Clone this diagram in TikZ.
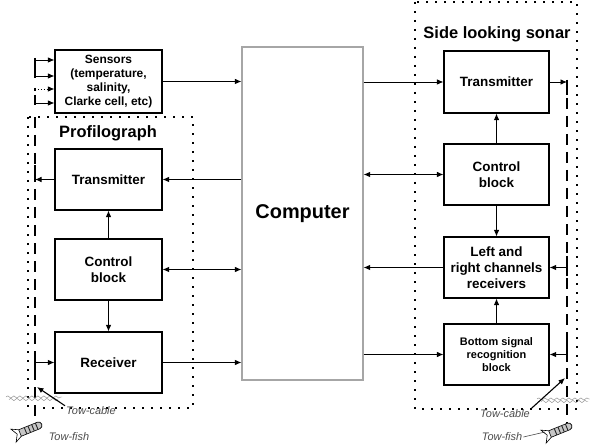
\documentclass[tikz,border=0pt]{standalone}
\usepackage{fontspec}
\setmainfont{Liberation Sans}
\usetikzlibrary{arrows.meta}
\usetikzlibrary{decorations.pathmorphing}

\begin{document}
\begin{tikzpicture}[x=1bp, y=-1bp,
    block/.style={draw, line width=1.1bp, minimum width=107bp, minimum height=61bp,
      align=center, inner sep=1bp, font=\fontsize{13.5}{16}\selectfont\bfseries},
    group/.style={draw, line width=1.6bp, dash pattern=on 1.6bp off 7.4bp},
    title/.style={font=\fontsize{16.5}{19}\selectfont\bfseries},
    towline/.style={line width=2.3bp, dash pattern=on 11bp off 7bp},
    tick/.style={line width=2.3bp},
    tip/.tip={Latex[length=6.5bp, width=5.5bp]},
    link/.style={line width=0.9bp, -tip},
    wave/.style={gray, decorate, decoration={snake, amplitude=1.1bp, segment length=6bp}},
    note/.style={text=gray!60!black, font=\fontsize{11}{13}\selectfont\itshape, inner sep=1bp},
    towfish/.pic={
      \draw[fill=gray!45, line width=0.6bp] (0,-3.5) -- (20,-3.5) arc (-90:90:3.5) -- (0,3.5) -- cycle;
      \draw[line width=0.6bp] (0,-3.5) -- (-7,-7) -- (-3,0) -- (-7,7) -- (0,3.5);
      \foreach \s in {6, 10, 14, 18}
        \draw[gray!30!black, line width=0.9bp] (\s,-3.5) -- (\s,3.5);
    }
  ]
  \useasboundingbox (0,0) rectangle (590,447);

  \draw[group] (28,117) rectangle (193,408);
  \draw[group] (415,2) rectangle (577,409);
  \node[title] (proftitle) at (108,133) {Profilograph};
  \node[title] (sonartitle) at (497,34) {Side looking sonar};

  \node[block, font=\fontsize{12}{14}\selectfont\bfseries, minimum height=63bp] (sens) at (108.5,81.5)
    {Sensors\\(temperature,\\salinity,\\Clarke cell, etc)};
  \node[block] (ptx) at (108.5,179.5) {Transmitter};
  \node[block] (pctl) at (108.5,269.5) {Control\\block};
  \node[block] (prx) at (108.5,362.5) {Receiver};

  \node[block, draw=gray!70, minimum width=121bp, minimum height=333bp,
    font=\fontsize{20}{24}\selectfont\bfseries] (comp) at (302.5,213.5) {Computer};

  \node[block, minimum width=105bp, minimum height=62bp] (stx) at (496.5,82) {Transmitter};
  \node[block, minimum width=105bp] (sctl) at (496.5,174.5) {Control\\block};
  \node[block, minimum width=105bp] (srx) at (496.5,267.5) {Left and\\right channels\\receivers};
  \node[block, minimum width=105bp, font=\fontsize{11}{13}\selectfont\bfseries] (sbot) at (496.5,354.5)
    {Bottom signal\\recognition\\block};

  \draw[link] (sens) -- (sens -| comp.west);
  \draw[link] (comp.west |- ptx) -- (ptx);
  \draw[link, tip-tip] (pctl) -- (pctl -| comp.west);
  \draw[link] (prx) -- (prx -| comp.west);
  \draw[link] (comp.east |- stx) -- (stx);
  \draw[link, tip-tip] (comp.east |- sctl) -- (sctl);
  \draw[link] (srx) -- (srx -| comp.east);
  \draw[link] (comp.east |- sbot) -- (sbot);

  \draw[link] (pctl) -- (ptx);
  \draw[link] (pctl) -- (prx);
  \draw[link] (sctl) -- (stx);
  \draw[link] (sctl) -- (srx);
  \draw[link] (sbot) -- (srx);

  \coordinate (ltop) at (35,117);
  \coordinate (lbot) at (35,418);
  \coordinate (rtop) at (567,80);
  \coordinate (rbot) at (567,423);
  \draw[towline] (ltop) -- (lbot);
  \draw[towline] (rtop) -- (rbot);

  \draw[tick] (35,58) -- (35,78);
  \draw[link] (35,60) -- (sens.west |- 0,60);
  \draw[link] (35,76) -- (sens.west |- 0,76);
  \draw[tick, dash pattern=on 3bp off 4bp on 12bp] (35,88) -- (35,105);
  \draw[link, dotted] (35,89) -- (sens.west |- 0,89);
  \draw[link] (35,103) -- (sens.west |- 0,103);

  \draw[tick] (35,165) -- (35,182);
  \draw[link] (ptx) -- (ptx -| ltop);
  \draw[tick] (35,354) -- (35,372);
  \draw[link] (prx -| ltop) -- (prx);
  \draw[link] (stx) -- (stx -| rtop);
  \draw[tick] (567,80) -- (567,95);
  \draw[tick] (567,256) -- (567,276);
  \draw[link] (srx -| rtop) -- (srx);
  \draw[tick] (567,343) -- (567,362);
  \draw[link] (sbot -| rtop) -- (sbot);

  \draw[wave] (6,397) -- (62,397);
  \draw[wave] (9,399.5) -- (58,399.5);
  \draw[wave] (537,399) -- (590,399);
  \draw[wave] (541,401.5) -- (588,401.5);

  \node[note] (tcl) at (91,411) {Tow-cable};
  \node[note] (tfl) at (69,437) {Tow-fish};
  \node[note] (tcr) at (505,414) {Tow-cable};
  \node[note] (tfr) at (502,437) {Tow-fish};

  \coordinate (lcab) at (37,387);
  \coordinate (rcab) at (565,378);
  \coordinate (rfish) at (545,432);
  \draw[link, line width=1.1bp] (tcl.north west) -- (lcab);
  \draw[link, line width=1.1bp] (tcr.north east) -- (rcab);
  \draw[gray!60!black, line width=0.6bp] (tfr.east) -- (rfish);

  \pic[rotate=22] at (20,433) {towfish};
  \pic[rotate=22] at (550,434) {towfish};
\end{tikzpicture}
\end{document}
